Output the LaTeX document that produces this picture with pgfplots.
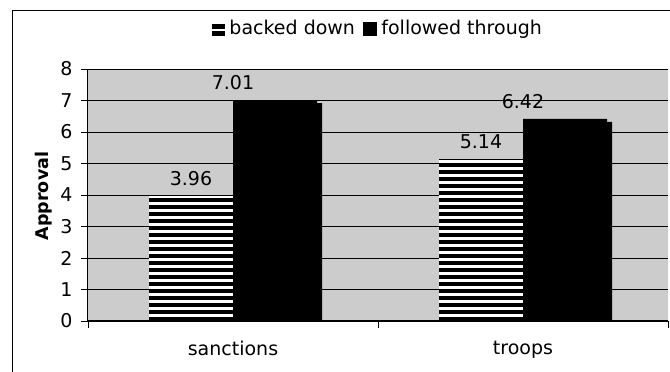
\documentclass[border=0pt]{standalone}
\usepackage{pgfplots}
\pgfplotsset{compat=1.18}
\usepackage{fontspec}
\setmainfont{DejaVu Sans}
\usetikzlibrary{shadows}
\definecolor{bg}{RGB}{204,204,204}
\begin{document}
\fontsize{19}{22}\selectfont
\begin{tikzpicture}
\useasboundingbox (0,0) rectangle (670pt,372pt);
\draw[line width=1pt] (12pt,-5pt) -- (12pt,361pt) -- (680pt,361pt);
\begin{axis}[
  at={(88pt,51pt)}, anchor=south west,
  scale only axis, width=580pt, height=252pt,
  xmin=0, xmax=2, ymin=0, ymax=8,
  ytick={0,1,...,8},
  xtick={0,1,2}, xticklabels={},
  extra x ticks={0.5,1.5},
  extra x tick labels={sanctions,troops},
  extra x tick style={major tick length=0pt, tick label style={yshift=-14pt}},
  axis x line*=bottom, axis y line*=left,
  axis line style={black, line width=1pt, -},
  ymajorgrids,
  major grid style={black, line width=0.8pt},
  axis background/.style={fill=bg},
  tick align=outside, major tick length=7pt,
  tick style={black, line width=0.8pt},
  yticklabel style={xshift=-2pt},
  /pgf/number format/assume math mode=true,
  ylabel={Approval},
  ylabel style={at={(axis description cs:-0.0759,0.496)}, anchor=center, rotate=0, font=\fontsize{17.5}{20}\selectfont\bfseries},
  legend style={at={(axis description cs:0.5,1.159)}, anchor=center, draw=none, fill=none, legend columns=-1,
    /tikz/every odd column/.append style={column sep=3pt},
    /tikz/every even column/.append style={column sep=6pt}},
  point meta=explicit symbolic,
  every node near coord/.append style={yshift=4pt, black, outer sep=0pt},
]
% legend entries
\addlegendimage{legend image code/.code={\fill[white] (0pt,-6pt) rectangle (12pt,6pt);
    \fill[black] (0pt,-6pt) rectangle (12pt,-2.5pt);
    \fill[black] (0pt,1pt) rectangle (12pt,4.5pt);}}
\addlegendentry{backed down}
\addlegendimage{legend image code/.code={\fill[black] (0pt,-6.5pt) rectangle (13pt,6.5pt);}}
\addlegendentry{followed through}
% backed down: white base + horizontal black stripes
\addplot[forget plot, ycomb, mark=none, draw=white, line width=84pt, xshift=-42pt]
  coordinates {(0.5,3.96) (1.5,5.14)};
\addplot[forget plot, ycomb, mark=none, draw=black, line width=84pt, xshift=-42pt,
  dash pattern=on 4pt off 3pt, nodes near coords]
  coordinates {(0.5,3.96) [3.96] (1.5,5.14) [5.14]};
% followed through
\addplot[forget plot, ybar, bar width=84pt, bar shift=42pt, draw=none, fill=black,
  drop shadow={shadow xshift=5pt, shadow yshift=-3pt, fill=black, opacity=1},
  nodes near coords]
  coordinates {(0.5,7.01) [7.01] (1.5,6.42) [6.42]};
\end{axis}
\end{tikzpicture}
\end{document}
